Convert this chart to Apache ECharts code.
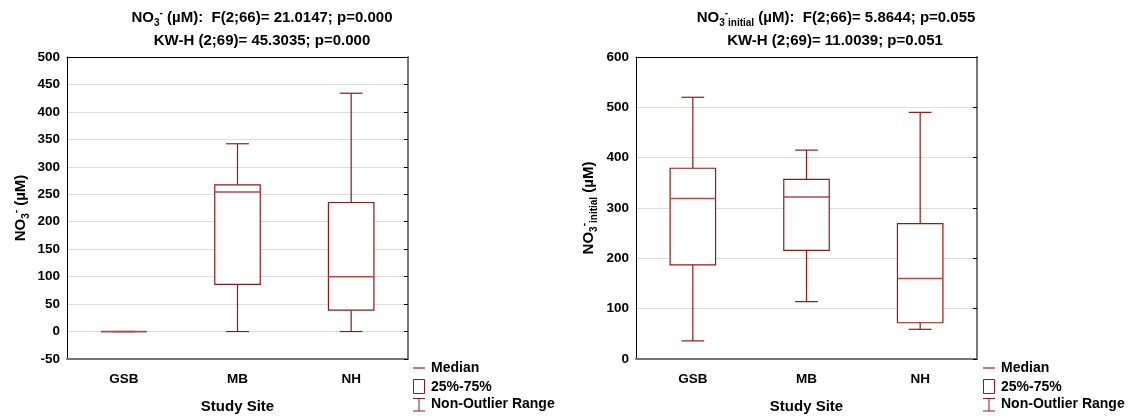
<!DOCTYPE html>
<html>
<head>
<meta charset="utf-8">
<script src="https://cdn.jsdelivr.net/npm/echarts@6/dist/echarts.min.js"></script>
<style>
  html, body { margin: 0; padding: 0; background: #fff; }
  #main { width: 1130px; height: 419px; }
</style>
</head>
<body>
<div id="main"></div>
<script>
  // 数据
  var sites = ['GSB', 'MB', 'NH'];

  // NO3- (µM)
  var no3Low = [0, 0, 0];
  var no3Q1 = [0, 86, 39];
  var no3Median = [0, 254, 100];
  var no3Q3 = [0, 267, 235];
  var no3High = [0, 342, 434];

  // NO3- initial (µM)
  var initLow = [36, 114, 59];
  var initQ1 = [187, 216, 72];
  var initMedian = [319, 322, 160];
  var initQ3 = [379, 357, 269];
  var initHigh = [520, 415, 490];

  var no3Ticks = { min: -50, max: 500, interval: 50 };
  var initTicks = { min: 0, max: 600, interval: 100 };

  var FONT = 'Liberation Sans, Arial, sans-serif';
  var RED = '#8e1b1b';
  var LIGHT_RED = '#b24a4a';

  function boxData(low, q1, med, q3, high) {
    var out = [];
    for (var i = 0; i < sites.length; i++) {
      out.push([i, low[i], q1[i], med[i], q3[i], high[i]]);
    }
    return out;
  }

  // box + whisker with short caps
  function renderBox(params, api) {
    var x = api.value(0);
    var lo = api.coord([x, api.value(1)]);
    var q1 = api.coord([x, api.value(2)]);
    var md = api.coord([x, api.value(3)]);
    var q3 = api.coord([x, api.value(4)]);
    var hi = api.coord([x, api.value(5)]);
    var band = api.size([1, 0])[0];
    var bw = band * 0.4 / 2, cw = band * 0.2 / 2;
    var cx = lo[0];
    var st = { stroke: RED, lineWidth: 1.2, fill: null };
    return {
      type: 'group',
      children: [
        { type: 'line', shape: { x1: cx, y1: hi[1], x2: cx, y2: q3[1] }, style: st },
        { type: 'line', shape: { x1: cx, y1: q1[1], x2: cx, y2: lo[1] }, style: st },
        { type: 'line', shape: { x1: cx - cw, y1: hi[1], x2: cx + cw, y2: hi[1] }, style: st },
        { type: 'line', shape: { x1: cx - cw, y1: lo[1], x2: cx + cw, y2: lo[1] }, style: st },
        { type: 'rect', shape: { x: cx - bw, y: q3[1], width: bw * 2, height: q1[1] - q3[1] },
          style: { stroke: RED, lineWidth: 1.2, fill: '#fff' } },
        { type: 'line', shape: { x1: cx - bw, y1: md[1], x2: cx + bw, y2: md[1] },
          style: { stroke: LIGHT_RED, lineWidth: 1.5 } }
      ]
    };
  }

  var rich = {
    b: { fontSize: 15, fontWeight: 'bold', fontFamily: FONT, color: '#000', lineHeight: 20 },
    sub: { fontSize: 10, fontWeight: 'bold', fontFamily: FONT, color: '#000', lineHeight: 10, verticalAlign: 'bottom' },
    sup: { fontSize: 10, fontWeight: 'bold', fontFamily: FONT, color: '#000', lineHeight: 10, verticalAlign: 'top' }
  };

  function xAxes(grid) {
    return [
      {
        type: 'category', gridIndex: grid, data: sites, position: 'bottom',
        name: 'Study Site', nameLocation: 'middle', nameGap: 40,
        nameTextStyle: { fontSize: 15, fontWeight: 'bold', fontFamily: FONT, color: '#000' },
        axisLine: { onZero: false, lineStyle: { color: '#777', width: 2 } },
        axisTick: { inside: true, alignWithLabel: true, length: 4, lineStyle: { color: '#000' } },
        axisLabel: { fontSize: 13.5, fontWeight: 'bold', fontFamily: FONT, color: '#000', margin: 13 },
        splitLine: { show: false }
      },
      {
        type: 'category', gridIndex: grid, data: sites, position: 'top',
        axisLine: { onZero: false, lineStyle: { color: '#000', width: 1 } },
        axisTick: { inside: true, alignWithLabel: true, length: 4, lineStyle: { color: '#000' } },
        axisLabel: { show: false },
        splitLine: { show: false }
      }
    ];
  }

  function yAxes(grid, ticks, name, gap) {
    return [
      {
        type: 'value', gridIndex: grid, position: 'left',
        min: ticks.min, max: ticks.max, interval: ticks.interval,
        name: name, nameLocation: 'middle', nameRotate: 90, nameGap: gap,
        nameTextStyle: { rich: rich },
        axisLine: { show: true, onZero: false, lineStyle: { color: '#000', width: 1 } },
        axisTick: { show: false },
        axisLabel: { fontSize: 13.5, fontWeight: 'bold', fontFamily: FONT, color: '#000', margin: 7 },
        splitLine: { show: true, lineStyle: { color: '#dcdcdc', width: 1 } }
      },
      {
        type: 'value', gridIndex: grid, position: 'right',
        min: ticks.min, max: ticks.max, interval: ticks.interval,
        axisLine: { show: true, onZero: false, lineStyle: { color: '#777', width: 2 } },
        axisTick: { show: true, inside: true, length: 4, lineStyle: { color: '#000' } },
        axisLabel: { show: false },
        splitLine: { show: false }
      }
    ];
  }

  function legendGroup(x0) {
    var ts = { fontSize: 14, fontWeight: 'bold', fontFamily: FONT, fill: '#000', textVerticalAlign: 'middle' };
    return {
      type: 'group', x: x0, y: 0,
      children: [
        { type: 'line', shape: { x1: 0, y1: 368, x2: 12, y2: 368 }, style: { stroke: LIGHT_RED, lineWidth: 1.5 } },
        { type: 'rect', shape: { x: 0.5, y: 379.5, width: 11, height: 14 }, style: { stroke: RED, fill: '#fff', lineWidth: 1 } },
        { type: 'line', shape: { x1: 0, y1: 398.5, x2: 12, y2: 398.5 }, style: { stroke: RED, lineWidth: 1 } },
        { type: 'line', shape: { x1: 6, y1: 398.5, x2: 6, y2: 411 }, style: { stroke: RED, lineWidth: 1 } },
        { type: 'line', shape: { x1: 0, y1: 411, x2: 12, y2: 411 }, style: { stroke: RED, lineWidth: 1 } },
        { type: 'text', x: 18, y: 368, style: Object.assign({ text: 'Median' }, ts) },
        { type: 'text', x: 18, y: 387, style: Object.assign({ text: '25%-75%' }, ts) },
        { type: 'text', x: 18, y: 404, style: Object.assign({ text: 'Non-Outlier Range' }, ts) }
      ]
    };
  }

  var myChart = echarts.init(document.getElementById('main'));

  var option = {
    backgroundColor: '#fff',
    animation: false,
    title: [
      { text: '{b|NO}{sub|3}{sup|-}{b| (µM):  F(2;66)= 21.0147; p=0.000}', left: 257, top: 3, textAlign: 'center', textStyle: { rich: rich } },
      { text: '{b|KW-H (2;69)= 45.3035; p=0.000}', left: 257, top: 26, textAlign: 'center', textStyle: { rich: rich } },
      { text: '{b|NO}{sub|3}{sup|-}{sub|initial}{b| (µM):  F(2;66)= 5.8644; p=0.055}', left: 831, top: 3, textAlign: 'center', textStyle: { rich: rich } },
      { text: '{b|KW-H (2;69)= 11.0039; p=0.051}', left: 830, top: 26, textAlign: 'center', textStyle: { rich: rich } }
    ],
    grid: [
      { left: 67, right: 722, top: 57, bottom: 54 },
      { left: 636, right: 153, top: 57, bottom: 55 }
    ],
    xAxis: xAxes(0).concat(xAxes(1)),
    yAxis: yAxes(0, no3Ticks, '{b|NO}{sub|3}{sup|-}{b| (µM)}', 36)
      .concat(yAxes(1, initTicks, '{b|NO}{sub|3}{sup|-}{sub|initial}{b| (µM)}', 37)),
    series: [
      {
        name: 'NO3', type: 'custom', xAxisIndex: 0, yAxisIndex: 0,
        renderItem: renderBox, encode: { x: 0, y: [1, 2, 3, 4, 5] },
        data: boxData(no3Low, no3Q1, no3Median, no3Q3, no3High), z: 5
      },
      {
        name: 'NO3 initial', type: 'custom', xAxisIndex: 2, yAxisIndex: 2,
        renderItem: renderBox, encode: { x: 0, y: [1, 2, 3, 4, 5] },
        data: boxData(initLow, initQ1, initMedian, initQ3, initHigh), z: 5
      }
    ],
    graphic: [legendGroup(413), legendGroup(983)]
  };

  myChart.setOption(option);
</script>
</body>
</html>
